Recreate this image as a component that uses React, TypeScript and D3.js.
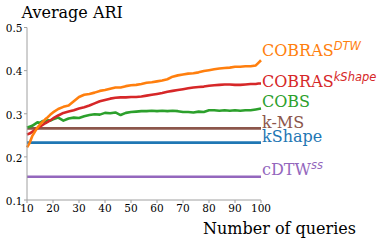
import React from "react";
import * as d3 from "d3";

const queries = [10,11,12,13,14,15,16,17,18,19,20,22,24,26,28,30,32,34,36,38,40,42,44,46,48,50,52,54,56,58,60,62,64,66,68,70,72,74,76,78,80,82,84,86,88,90,92,94,96,98,99,100];

const cobrasDtw = [0.222,0.232,0.248,0.258,0.268,0.275,0.281,0.287,0.292,0.298,0.303,0.311,0.316,0.319,0.329,0.339,0.344,0.346,0.349,0.353,0.355,0.358,0.361,0.361,0.364,0.366,0.367,0.369,0.372,0.373,0.375,0.377,0.380,0.386,0.389,0.391,0.393,0.394,0.396,0.399,0.401,0.403,0.405,0.406,0.407,0.409,0.409,0.410,0.410,0.412,0.418,0.424];

const cobrasKShape = [0.252,0.254,0.258,0.262,0.266,0.270,0.274,0.278,0.281,0.285,0.289,0.296,0.302,0.305,0.308,0.312,0.315,0.319,0.324,0.329,0.332,0.335,0.337,0.338,0.338,0.339,0.339,0.340,0.342,0.344,0.346,0.348,0.351,0.353,0.355,0.357,0.359,0.361,0.362,0.363,0.365,0.366,0.367,0.368,0.368,0.367,0.367,0.368,0.369,0.369,0.370,0.370];

const cobs = [0.268,0.270,0.272,0.276,0.280,0.279,0.283,0.281,0.285,0.284,0.287,0.291,0.284,0.289,0.291,0.290,0.294,0.297,0.299,0.298,0.302,0.301,0.303,0.297,0.302,0.304,0.305,0.306,0.306,0.307,0.306,0.307,0.306,0.307,0.306,0.304,0.304,0.303,0.305,0.304,0.308,0.308,0.307,0.308,0.307,0.308,0.307,0.308,0.308,0.310,0.311,0.312];

const kMS = 0.266;
const kShape = 0.233;
const cDTWss = 0.154;

const xTicks = [10,20,30,40,50,60,70,80,90,100];
const yTicks = [0.1,0.2,0.3,0.4,0.5];

const W = 382, H = 242;
const serif = "'DejaVu Serif', serif";
const sans = "'DejaVu Sans', sans-serif";

export default function App() {
  const x = d3.scaleLinear().domain([10, 100]).range([27, 261]);
  const y = d3.scaleLinear().domain([0.1, 0.5]).range([200, 27.5]);
  const line = d3.line<[number, number]>().x(d => x(d[0])).y(d => y(d[1]));
  const mk = (vals: number[]) => queries.map((q, i) => [q, vals[i]] as [number, number]);
  const flat = (v: number) => queries.map(q => [q, v] as [number, number]);

  const series = [
    { name: "kShape", color: "#1f77b4", pts: flat(kShape), sup: "", dy: -1 },
    { name: "cDTW", color: "#9467bd", pts: flat(cDTWss), sup: "ss", dy: -1.5 },
    { name: "k-MS", color: "#8c564b", pts: flat(kMS), sup: "", dy: 0 },
    { name: "COBS", color: "#2ca02c", pts: mk(cobs), sup: "", dy: -1.5 },
    { name: "COBRAS", color: "#d62728", pts: mk(cobrasKShape), sup: "kShape", dy: 3.5 },
    { name: "COBRAS", color: "#ff7f0e", pts: mk(cobrasDtw), sup: "DTW", dy: -4 },
  ];
  const axisColor = "#a0a0a0";

  return (
    <svg width={W} height={H} style={{ position: "absolute", left: 0, top: 0, background: "#fff" }}>
      {series.map((s, i) => (
        <path key={i} d={line(s.pts) || ""} fill="none" stroke={s.color} strokeWidth={2.6} strokeLinejoin="round" strokeLinecap="butt" />
      ))}
      {/* spines */}
      <line x1={x(10)} x2={x(10)} y1={y(0.1)} y2={y(0.5)} stroke={axisColor} strokeWidth={1} />
      <line x1={x(10)} x2={x(100)} y1={y(0.1)} y2={y(0.1)} stroke={axisColor} strokeWidth={1} />
      {yTicks.map(t => (
        <g key={"y" + t}>
          <line x1={x(10) - 3} x2={x(10)} y1={y(t)} y2={y(t)} stroke={axisColor} strokeWidth={1} />
          <text x={x(10) - 4.5} y={y(t) + 4.8} textAnchor="end" fontFamily={serif} fontSize={10.5} fill="#000">{d3.format(".1f")(t)}</text>
        </g>
      ))}
      {xTicks.map(t => (
        <g key={"x" + t}>
          <line x1={x(t)} x2={x(t)} y1={y(0.1)} y2={y(0.1) + 3} stroke={axisColor} strokeWidth={1} />
          <text x={x(t)} y={211.7} textAnchor="middle" fontFamily={serif} fontSize={10.5} fill="#000">{t}</text>
        </g>
      ))}
      <text x={21.5} y={17.5} fontFamily={serif} fontSize={16} fill="#000">Average ARI</text>
      <text x={356} y={234} textAnchor="end" fontFamily={serif} fontSize={16} fill="#000">Number of queries</text>
      {series.map((s, i) => {
        const last = s.pts[s.pts.length - 1];
        return (
          <text key={"l" + i} x={262} y={y(last[1]) + s.dy} fontFamily={serif} fontSize={16} fill={s.color}>
            {s.name}
            {s.sup ? (
              <tspan fontFamily={sans} fontStyle="italic" fontSize={11.5} dy={-6.5}>{s.sup}</tspan>
            ) : null}
          </text>
        );
      })}
    </svg>
  );
}
